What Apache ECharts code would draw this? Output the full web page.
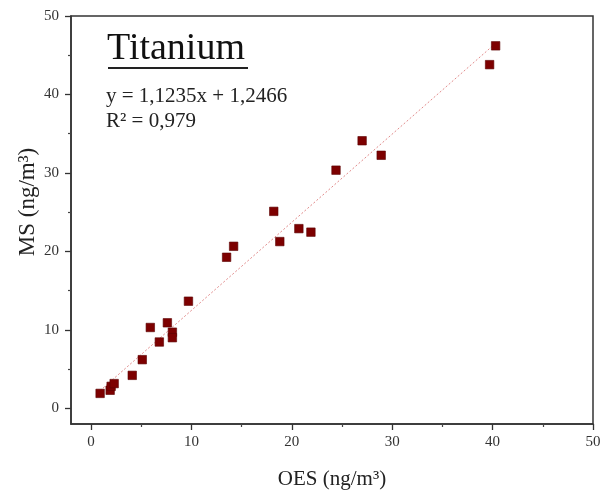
<!DOCTYPE html>
<html><head><meta charset="utf-8">
<script src="https://cdn.jsdelivr.net/npm/echarts@6/dist/echarts.min.js"></script>
<style>html,body{margin:0;padding:0;background:#fff}#c{width:601px;height:493px}</style>
</head><body><div id="c"></div>
<script>
const oesValues = [0.9, 1.9, 2.0, 2.3, 4.1, 5.1, 5.9, 6.8, 7.6, 8.1, 8.1, 9.7, 13.5, 14.2, 18.2, 18.8, 20.7, 21.9, 24.4, 27.0, 28.9, 39.7, 40.3];
const msValues  = [1.9, 2.3, 2.8, 3.15, 4.2, 6.2, 10.3, 8.45, 10.9, 9.7, 9.0, 13.65, 19.25, 20.65, 25.1, 21.25, 22.9, 22.45, 30.35, 34.1, 32.25, 43.8, 46.2];
const tickValues = [0, 10, 20, 30, 40, 50];
const minorTickValues = [5, 15, 25, 35, 45];
const slope = 1.1235, intercept = 1.2466;
const trendXRange = [0.9, 40.3];
const titleText = 'Titanium';
const eqText = 'y = 1,1235x + 1,2466';
const r2Text = 'R² = 0,979';
const xName = 'OES (ng/m³)';
const yName = 'MS (ng/m³)';

const points = oesValues.map((x, i) => [x, msValues[i]]);
const trend = trendXRange.map(x => [x, slope * x + intercept]);
const serif = 'Liberation Serif, Times New Roman, serif';

const chart = echarts.init(document.getElementById('c'));
function axis() {
  return {
    type: 'value', min: -2, max: 50,
    axisLine: {show: true, onZero: false, lineStyle: {color: '#333', width: 1.5}},
    axisTick: {show: true, customValues: tickValues, length: 6, lineStyle: {color: '#333', width: 1.3}},
    axisLabel: {customValues: tickValues, fontFamily: serif, fontSize: 15, color: '#333', margin: 11},
    splitLine: {show: false}
  };
}
function minorAxis() {
  return {
    type: 'value', min: -2, max: 50,
    axisLine: {show: false, onZero: false},
    axisTick: {show: true, customValues: minorTickValues, length: 3, lineStyle: {color: '#444', width: 1.2}},
    axisLabel: {show: false},
    splitLine: {show: false}
  };
}
const xA = axis();
const yA = axis();
yA.axisLabel.margin = 12;
const xMinor = minorAxis(); xMinor.position = 'bottom';
const yMinor = minorAxis(); yMinor.position = 'left';
chart.setOption({
  animation: false,
  grid: {left: 71, right: 8, top: 16, bottom: 69, outerBoundsMode: 'none', containLabel: false,
         show: true, borderColor: '#333', borderWidth: 1.5, backgroundColor: 'transparent'},
  xAxis: [xA, xMinor],
  yAxis: [yA, yMinor],
  graphic: [
    {type: 'text', left: 107, top: 30, style: {text: titleText, font: '38px ' + serif, fill: '#111'}},
    {type: 'line', shape: {x1: 108, y1: 68, x2: 248, y2: 68}, style: {stroke: '#222', lineWidth: 2}},
    {type: 'text', left: 106, top: 86, style: {text: eqText, font: '21px ' + serif, fill: '#222'}},
    {type: 'text', left: 106, top: 111, style: {text: r2Text, font: '21px ' + serif, fill: '#222'}},
    {type: 'text', x: 28, y: 202, rotation: Math.PI / 2,
     style: {text: yName, font: '23px ' + serif, fill: '#222', align: 'center', verticalAlign: 'middle'}},
    {type: 'text', x: 332, y: 479,
     style: {text: xName, font: '21px ' + serif, fill: '#222', align: 'center', verticalAlign: 'middle'}}
  ],
  series: [
    {type: 'line', data: trend, symbol: 'none', lineStyle: {color: '#e08a8a', width: 1, type: [2, 2]}, z: 1},
    {type: 'scatter', data: points, symbol: 'rect', symbolSize: 8.5,
     itemStyle: {color: '#7d0000', opacity: 1, borderColor: '#5a0000', borderWidth: 0.6}, z: 2}
  ]
});
</script></body></html>
